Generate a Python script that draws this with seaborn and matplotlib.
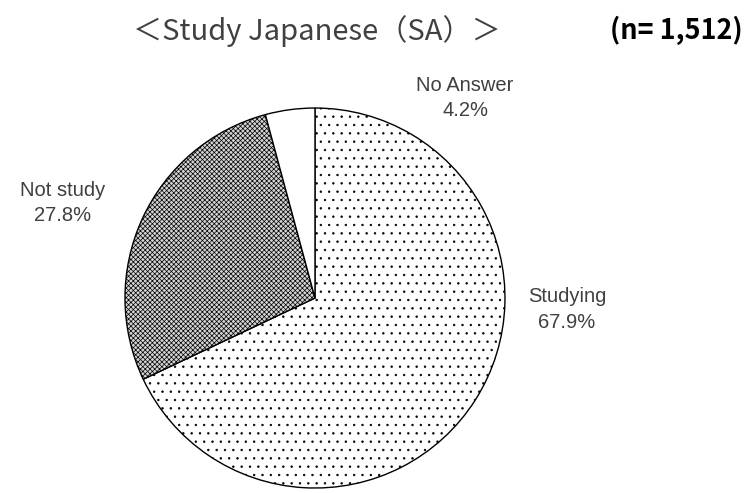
import matplotlib
matplotlib.use("Agg")
import seaborn as sns
from matplotlib import pyplot as plt

categories = ['Studying', 'Not study', 'No Answer']
shares = [67.9, 27.8, 4.2]
hatches = ['..', 'xxxxxxx', '']
faces = ['white', '#d4d4d4', 'white']

sns.set_theme(style="white")
plt.rcParams['font.family'] = ['Liberation Sans', 'DejaVu Sans']
plt.rcParams['hatch.color'] = '#505050'
plt.rcParams['hatch.linewidth'] = 0.5

fig = plt.figure(figsize=(7.48, 4.93), dpi=100)
ax = fig.add_axes([0.1671, 0.0101, 0.508, 0.7708])

wedges, _ = ax.pie(shares, startangle=90, counterclock=False, colors=faces,
                   wedgeprops=dict(edgecolor='black', linewidth=1.0))
for w, h in zip(wedges, hatches):
    w.set_hatch(h)
ax.set_xlim(-1, 1)
ax.set_ylim(-1, 1)
ax.axis('off')

label_pos = {'Studying': (1.326, -0.06), 'Not study': (-1.326, 0.5), 'No Answer': (0.79, 1.053)}
for cat, val in zip(categories, shares):
    x, y = label_pos[cat]
    ax.text(x, y, f"{cat}\n{val:.1f}%", ha='center', va='center', fontsize=14.5,
            color='#404040', linespacing=1.45, clip_on=False)

fig.text(0.178, 0.938, '＜Study Japanese（SA）＞', ha='left', va='center', fontsize=21,
         color='#404040', family=['Noto Sans CJK JP', 'DejaVu Sans'])
fig.text(0.993, 0.938, '(n= 1,512)', ha='right', va='center', fontsize=19.5,
         color='black', fontweight='bold', family=['Noto Sans CJK JP', 'DejaVu Sans'])

fig.savefig('out.png', dpi=100)
